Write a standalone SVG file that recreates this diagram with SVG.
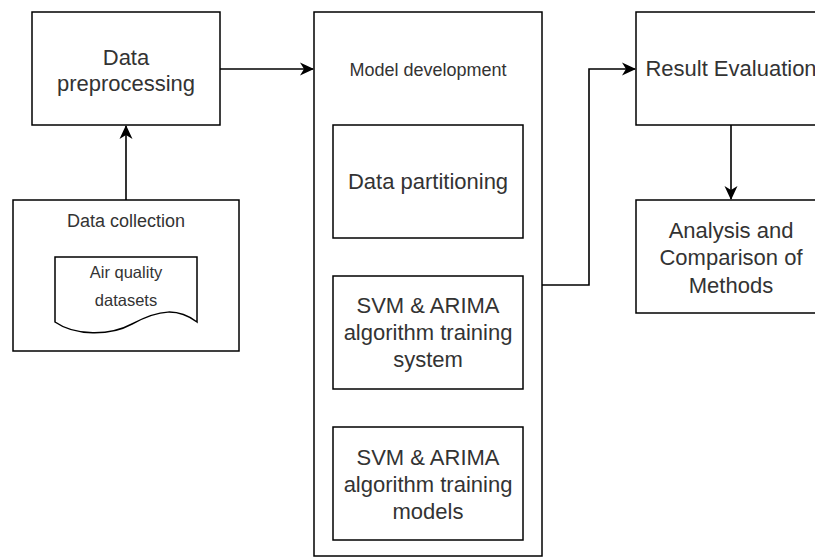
<svg xmlns="http://www.w3.org/2000/svg" width="815" height="559" viewBox="0 0 815 559">
  <style>
    .box { fill: #ffffff; stroke: #000000; stroke-width: 1.5; }
    .edge { fill: none; stroke: #000000; stroke-width: 1.6; }
    text { font-family: "Liberation Sans", Arial, sans-serif; fill: #333333; text-anchor: middle; dominant-baseline: central; }
    .lg { font-size: 22px; }
    .md { font-size: 18px; }
    .sm { font-size: 16.5px; }
  </style>
  <defs>
    <marker id="arrow" markerUnits="userSpaceOnUse" markerWidth="14" markerHeight="14" refX="13" refY="7" orient="auto">
      <path d="M0,0.5 L14,7 L0,13.5 L4,7 Z" fill="#000000"/>
    </marker>
  </defs>
  <rect width="815" height="559" fill="#ffffff"/>

  <!-- connectors -->
  <g id="connectors">
    <path class="edge" d="M126,200 V126" marker-end="url(#arrow)"/>
    <path class="edge" d="M220,69 H313" marker-end="url(#arrow)"/>
    <path class="edge" d="M428,238 V275" marker-end="url(#arrow)"/>
    <path class="edge" d="M428,389 V426" marker-end="url(#arrow)"/>
    <path class="edge" d="M542,285 H589 V69 H635" marker-end="url(#arrow)"/>
    <path class="edge" d="M731,125 V199" marker-end="url(#arrow)"/>
  </g>

  <g id="data-preprocessing">
    <rect class="box" x="32" y="12" width="188" height="113"/>
    <text class="lg" x="126" y="57">Data</text>
    <text class="lg" x="126" y="83">preprocessing</text>
  </g>

  <g id="data-collection">
    <rect class="box" x="13" y="200" width="226" height="151"/>
    <text class="md" x="126" y="221">Data collection</text>
  </g>

  <g id="air-quality-datasets">
    <path class="box" d="M55,322 V257 H197 V322 C178,308 160,309 132,324 C110,336 75,336 55,322 Z"/>
    <text class="sm" x="126" y="272">Air quality</text>
    <text class="sm" x="126" y="300">datasets</text>
  </g>

  <g id="model-development">
    <rect class="box" x="314" y="12" width="228" height="544"/>
    <text class="md" x="428" y="70">Model development</text>
  </g>

  <g id="data-partitioning">
    <rect class="box" x="333" y="125" width="190" height="113"/>
    <text class="lg" x="428" y="181">Data partitioning</text>
  </g>

  <g id="training-system">
    <rect class="box" x="333" y="276" width="190" height="113"/>
    <text class="lg" x="428" y="305">SVM &amp; ARIMA</text>
    <text class="lg" x="428" y="332">algorithm training</text>
    <text class="lg" x="428" y="359">system</text>
  </g>

  <g id="training-models">
    <rect class="box" x="333" y="427" width="190" height="113"/>
    <text class="lg" x="428" y="457">SVM &amp; ARIMA</text>
    <text class="lg" x="428" y="484">algorithm training</text>
    <text class="lg" x="428" y="511">models</text>
  </g>

  <g id="result-evaluation">
    <rect class="box" x="636" y="12" width="190" height="113"/>
    <text class="lg" x="731" y="68">Result Evaluation</text>
  </g>

  <g id="analysis-comparison">
    <rect class="box" x="636" y="200" width="190" height="113"/>
    <text class="lg" x="731" y="230">Analysis and</text>
    <text class="lg" x="731" y="257">Comparison of</text>
    <text class="lg" x="731" y="285">Methods</text>
  </g>
</svg>
